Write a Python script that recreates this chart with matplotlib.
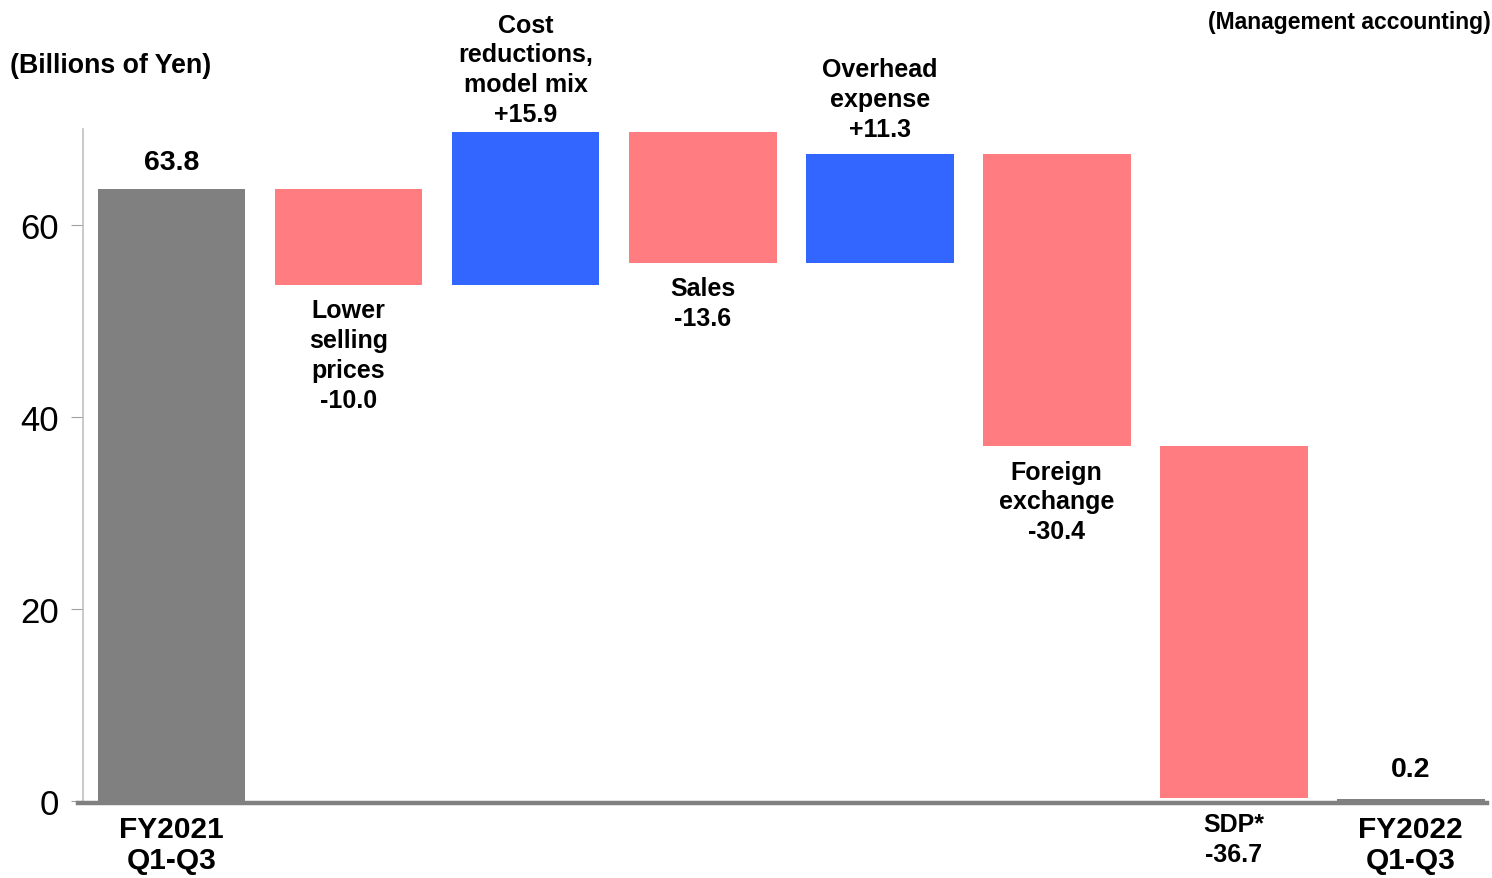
import matplotlib
matplotlib.use("Agg")
import matplotlib.pyplot as plt
import numpy as np

plt.rcParams['font.family'] = ['Liberation Sans', 'DejaVu Sans']

# operating profit bridge, billions of yen
steps = ["FY2021\nQ1-Q3", "Lower\nselling\nprices", "Cost\nreductions,\nmodel mix",
         "Sales", "Overhead\nexpense", "Foreign\nexchange", "SDP*", "FY2022\nQ1-Q3"]
start_total = 63.8
changes = [-10.0, 15.9, -13.6, 11.3, -30.4, -36.7]
end_total = 0.2

GRAY = "#808080"
RED = "#FF7C80"
BLUE = "#3366FF"

fig = plt.figure(figsize=(14.92, 8.79), dpi=100)
ax = fig.add_axes([0.0556, 0.0876, 0.9410, 0.7644])

x = np.arange(len(steps))
width = 0.835

# running totals for the floating bars
levels = start_total + np.cumsum([0] + changes)
bottoms = [0]
heights = [start_total]
colors = [GRAY]
for i, c in enumerate(changes):
    lo = min(levels[i], levels[i + 1])
    bottoms.append(lo)
    heights.append(abs(c))
    colors.append(BLUE if c > 0 else RED)
bottoms.append(0)
heights.append(end_total)
colors.append(GRAY)

ax.bar(x, heights, bottom=bottoms, width=width, color=colors, zorder=3)

ax.set_xlim(-0.5, 7.43)
ax.set_ylim(0, 70)
ax.set_yticks([0, 20, 40, 60])
ax.tick_params(axis='y', labelsize=25, length=9, color="#A0A0A0", pad=8)
ax.tick_params(axis='x', length=0)
ax.set_xticks([])
for s in ["top", "right"]:
    ax.spines[s].set_visible(False)
ax.spines["left"].set_color("#C0C0C0")
ax.spines["left"].set_linewidth(1.2)
ax.spines["bottom"].set_color(GRAY)
ax.spines["bottom"].set_linewidth(3.2)
ax.spines["bottom"].set_position(("outward", 1.5))
ax.spines["bottom"].set_bounds(-0.53, 7.43)

lab = dict(ha="center", fontweight="bold", fontsize=18, linespacing=1.3)

# totals
for i, v, off in ((0, start_total, 9.5), (7, end_total, 12)):
    ax.annotate(f"{v:.1f}", (x[i], v), xytext=(0, off),
                textcoords="offset points", va="bottom", ha="center",
                fontweight="bold", fontsize=20.5)
    ax.annotate(steps[i], (x[i], 0), xytext=(0, -10), textcoords="offset points",
                va="top", ha="center", fontweight="bold", fontsize=21.5,
                linespacing=1.16, annotation_clip=False)

# changes: increases labelled above, decreases below
above_offset = {2: 4.5, 4: 9.6}
for i, c in enumerate(changes, start=1):
    txt = f"{steps[i]}\n{c:+.1f}"
    top = bottoms[i] + heights[i]
    if i == 6:
        ax.annotate(txt, (x[i], 0), xytext=(0, -8), textcoords="offset points",
                    va="top", annotation_clip=False, **lab)
    elif c > 0:
        ax.annotate(txt, (x[i], top), xytext=(0, above_offset[i]),
                    textcoords="offset points", va="bottom",
                    annotation_clip=False, **lab)
    else:
        ax.annotate(txt, (x[i], bottoms[i]), xytext=(0, -10), textcoords="offset points",
                    va="top", annotation_clip=False, **lab)

fig.text(0.007, 0.925, "(Billions of Yen)", fontsize=19.3, fontweight="bold",
         ha="left", va="center")
fig.text(0.999, 0.974, "(Management accounting)", fontsize=16.5, fontweight="bold",
         ha="right", va="center")

fig.savefig("out.png", dpi=100)
